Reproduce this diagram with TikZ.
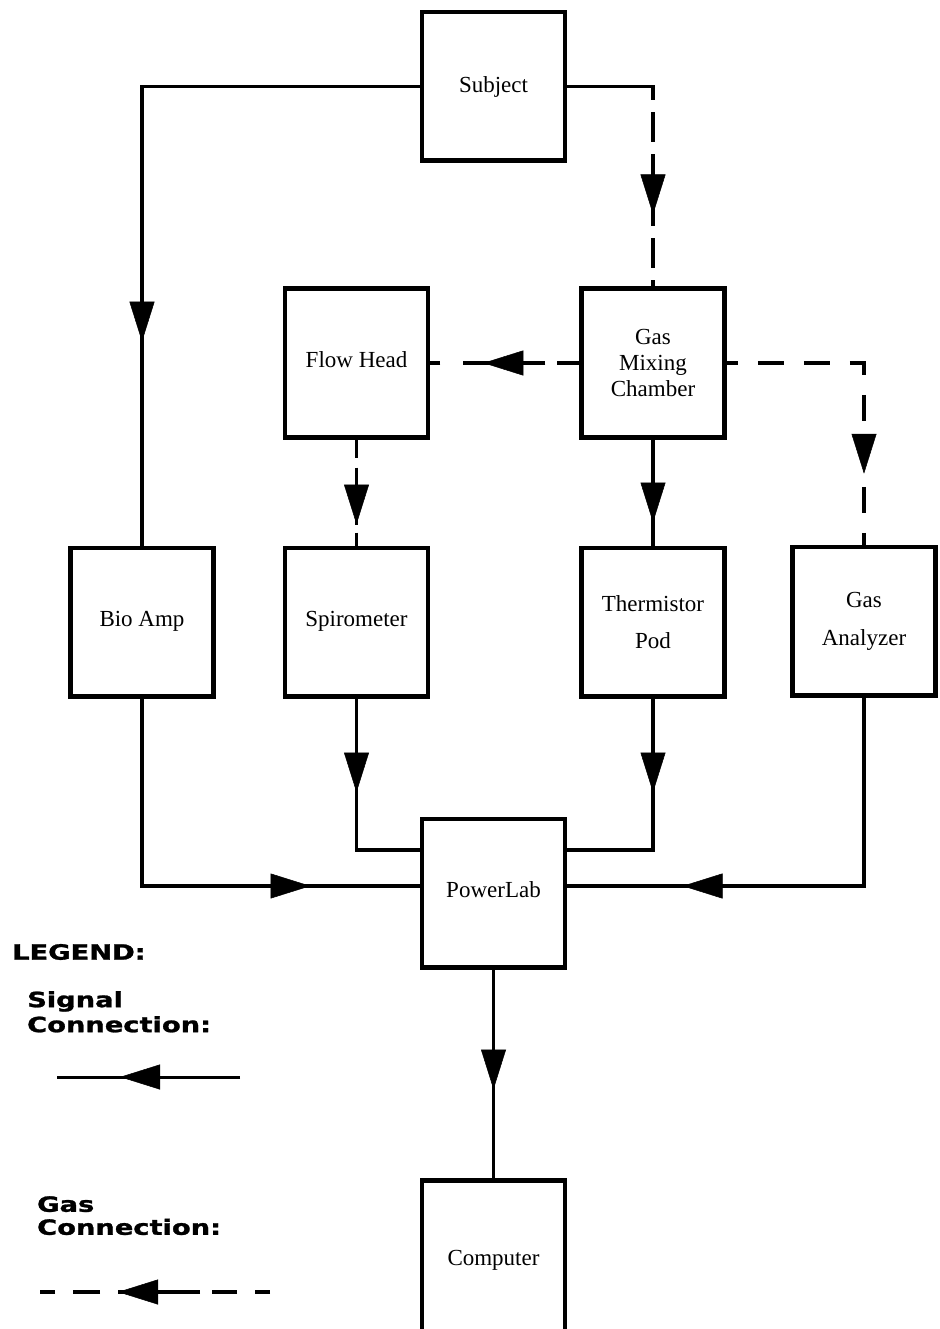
\documentclass[tikz,border=0pt]{standalone}
\usepackage{fontspec}
\setmainfont{Liberation Serif}
\newfontfamily\legfont[FakeBold=1.2]{DejaVu Sans}
\usetikzlibrary{arrows.meta,decorations.markings}
\tikzset{
  box/.style={draw, line width=4.5pt, minimum width=143pt, minimum height=148.5pt,
    inner sep=0pt, align=center, font=\fontsize{23}{28}\selectfont},
  sig/.style={line width=3.5pt},
  gas/.style={line width=3.5pt, dash pattern=on 26pt off 20pt},
  arr/.style={postaction={decorate}, decoration={markings,
    mark=at position #1 with {\arrow{Triangle[length=40pt,width=25pt,line width=0.5pt]}}}},
  legtext/.style={font=\legfont\bfseries\fontsize{21}{25}\selectfont, align=left, inner sep=0pt}
}
\newcommand{\wide}[1]{\scalebox{1.3}[1]{#1}}
\begin{document}
\begin{tikzpicture}[x=1pt,y=-1pt]
\useasboundingbox[fill=white] (0,0) rectangle (939,1329);

% boxes
\node[box] (subj) at (493.5,86.5) {\raisebox{-2pt}{Subject}};
\node[box] (fh)   at (356.5,363) {\raisebox{6pt}{Flow Head}};
\node[box] (mix)  at (653,363) {Gas\\[-2pt]Mixing\\[-2pt]Chamber};
\node[box] (bio)  at (142,622) {\raisebox{7pt}{Bio Amp}};
\node[box] (sp)   at (356.5,622) {\raisebox{7pt}{Spirometer}};
\node[box] (th)   at (653,622) {Thermistor\\[9pt]Pod};
\node[box] (ga)   at (864,621) {\raisebox{3pt}{\begin{tabular}{@{}c@{}}Gas\\[10pt]Analyzer\end{tabular}}};
\node[box] (pl)   at (493.5,893) {\raisebox{6pt}{PowerLab}};
\node[box, minimum height=160pt] (comp) at (493.5,1260.25) {\raisebox{5pt}{Computer}};

% signal / gas connectors
\draw[sig, arr=533pt] (subj.west) -| (bio.north);
\coordinate (k2) at (subj.east -| mix.north);
\draw[sig, line cap=rect] (subj.east) -- (k2);
\draw[gas, dash pattern=on 30pt off 12pt, dash phase=16pt, arr=128pt] (k2) -- (mix.north);
\draw[gas, dash pattern=on 22pt off 12pt on 82pt off 23pt on 20pt, arr=96pt] (mix.west) -- (fh.east);
\draw[gas, dash phase=15pt, arr=248pt] (mix.east) -| (ga.north);
\draw[gas, dash pattern=on 18pt off 10pt on 57pt off 8pt on 20pt, arr=85pt] (fh.south) -- (sp.north);
\draw[sig, arr=83pt] (mix.south) -- (th.north);
\draw[sig, arr=94pt] (sp.south) |- ([yshift=43pt]pl.west);
\draw[sig, arr=94pt] (th.south) |- ([yshift=43pt]pl.east);
\draw[sig, arr=356pt] (bio.south) |- ([yshift=7pt]pl.west);
\draw[sig, arr=370pt] (ga.south) |- ([yshift=7pt]pl.east);
\draw[sig, arr=120pt] (pl.south) -- (comp.north);

% legend
\node[legtext, anchor=west] (leg) at (12,952) {\wide{LEGEND:}};
\node[legtext, anchor=north west] (lsig) at (27,991) {\wide{Signal}\\\wide{Connection:}};
\node[legtext, anchor=north west] (lgas) at (37,1196) {\wide{Gas}\\[-2pt]\wide{Connection:}};
\coordinate (s1) at (240,1077);
\coordinate (s2) at (57,1077);
\draw[line width=3pt, arr=120pt] (s1) -- (s2);
\coordinate (g1) at (270,1292);
\coordinate (g2) at (40,1292);
\draw[line width=3.5pt, dash pattern=on 15pt off 18pt on 25pt off 12pt on 82pt off 18pt on 27pt off 18pt on 15pt, arr=152pt] (g1) -- (g2);
\end{tikzpicture}
\end{document}
